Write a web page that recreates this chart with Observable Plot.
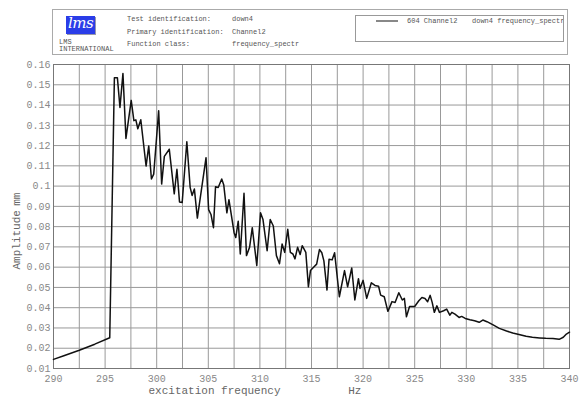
<!DOCTYPE html>
<html>
<head>
<meta charset="utf-8">
<script src="https://cdn.jsdelivr.net/npm/d3@7"></script>
<script src="https://cdn.jsdelivr.net/npm/@observablehq/plot@0.6"></script>
<style>
  html, body { margin: 0; padding: 0; background: #fff; }
  #wrap { position: relative; width: 582px; height: 399px; overflow: hidden; }
  #header { position: absolute; left: 52px; top: 9px; width: 516px; height: 46px;
            border: 1px solid #aaa; box-sizing: border-box; font-family: "Liberation Mono", "DejaVu Sans Mono", monospace;
            font-size: 7px; color: #555; }
  .t { position: absolute; white-space: nowrap; line-height: 1; }
  #logo { position: absolute; left: 13px; top: 6px; width: 29px; height: 18px; background: #2a3de8;
          color: #fff; font-family: "DejaVu Serif", serif; font-style: italic; font-size: 15px; line-height: 15px;
          text-align: center; letter-spacing: -0.5px; box-shadow: 1px 1px 0 #99a; }
  #legend { position: absolute; left: 302px; top: 5px; width: 209px; height: 27px; border: 1px solid #999;
            box-sizing: border-box; overflow: hidden; }
  #legline { position: absolute; left: 20px; top: 4px; width: 22px; height: 2px; background: #888; }
  #chart { position: absolute; left: 0; top: 0; }
</style>
</head>
<body>
<div id="wrap">
  <div id="chart"></div>
  <div id="header">
    <div id="logo">lms</div>
    <div class="t" style="left:6px;top:29px;">LMS</div>
    <div class="t" style="left:6px;top:36px;">INTERNATIONAL</div>
    <div class="t" style="left:74px;top:6px;">Test identification:</div>
    <div class="t" style="left:74px;top:19px;">Primary identification:</div>
    <div class="t" style="left:74px;top:31px;">Function class:</div>
    <div class="t" style="left:179px;top:6px;">down4</div>
    <div class="t" style="left:179px;top:19px;">Channel2</div>
    <div class="t" style="left:179px;top:31px;">frequency_spectr</div>
    <div id="legend">
      <div id="legline"></div>
      <div class="t" style="left:51px;top:2px;">604 Channel2</div>
      <div class="t" style="left:116px;top:2px;">down4 frequency_spectr</div>
    </div>
  </div>
</div>
<script>
const freq = [
  290, 291, 292.5, 294, 295.45, 295.9, 296.19, 296.44, 296.73, 297.02, 297.53, 297.79, 297.98, 298.17, 298.46,
  298.97, 299.23, 299.49, 299.71, 300.19, 300.48, 300.74, 301.22, 301.7, 301.96, 302.21, 302.47, 302.92,
  303.24, 303.43, 303.65, 303.94, 304.78, 305.03, 305.26, 305.5, 305.7, 305.96, 306.3, 306.5, 306.8, 307.0,
  307.5, 307.66, 307.9, 308.1, 308.46, 308.7, 309.0, 309.26, 309.7, 310.06, 310.3, 310.7, 311.0, 311.3,
  311.6, 311.9, 312.15, 312.4, 312.7, 312.95, 313.2, 313.4, 313.65, 313.9, 314.1, 314.45, 314.7, 314.9,
  315.2, 315.5, 315.77, 316.0, 316.2, 316.5, 316.7, 317.0, 317.24, 317.7, 318.2, 318.5, 318.9, 319.2,
  319.55, 319.7, 320.0, 320.35, 320.8, 321.15, 321.5, 321.7, 322.05, 322.4, 322.8, 323.1, 323.46, 323.8,
  324.0, 324.2, 324.5, 325.0, 325.4, 325.7, 326.0, 326.25, 326.5, 326.7, 326.9, 327.15, 327.4, 327.8,
  328.1, 328.4, 328.6, 328.9, 329.3, 329.55, 329.9, 330.35, 330.8, 331.25, 331.6, 332.0, 332.6, 333.2,
  333.9, 334.5, 335.2, 335.8, 336.4, 337.1, 337.7, 338.4, 339.0, 339.4, 339.7, 340.0
];
const amp = [
  0.0145, 0.0163, 0.0190, 0.0220, 0.0252, 0.1535, 0.1535, 0.1388, 0.1556, 0.1235, 0.1423, 0.1323, 0.1327, 0.1283, 0.1327,
  0.1099, 0.1198, 0.1035, 0.1059, 0.1372, 0.1010, 0.1147, 0.1182, 0.0962, 0.1083, 0.0922, 0.0919, 0.1219,
  0.0994, 0.0954, 0.0986, 0.0842, 0.1140, 0.0884, 0.0860, 0.0795, 0.0997, 0.0993, 0.1035, 0.1005, 0.0868, 0.0933,
  0.0770, 0.0746, 0.0827, 0.0665, 0.0965, 0.0657, 0.0698, 0.0795, 0.0608, 0.0868, 0.0835, 0.0681, 0.0835, 0.0803,
  0.0657, 0.0617, 0.0714, 0.0673, 0.0787, 0.0673, 0.0665, 0.0641, 0.0698, 0.0662, 0.0706, 0.0673, 0.0503, 0.0583,
  0.0600, 0.0615, 0.0687, 0.0671, 0.0631, 0.0487, 0.0639, 0.0636, 0.0671, 0.0454, 0.0583, 0.0503, 0.0596, 0.0438,
  0.0543, 0.0495, 0.0535, 0.0446, 0.0523, 0.0510, 0.0506, 0.0462, 0.0454, 0.0382, 0.0430, 0.0426, 0.0474, 0.0438,
  0.0446, 0.0355, 0.0406, 0.0406, 0.0434, 0.0450, 0.0445, 0.0429, 0.0461, 0.0425, 0.0377, 0.0409, 0.0377, 0.0385,
  0.0393, 0.0363, 0.0377, 0.0368, 0.0352, 0.0357, 0.0347, 0.0341, 0.0336, 0.0328, 0.0339, 0.0331, 0.0315, 0.0298,
  0.0285, 0.0275, 0.0267, 0.0259, 0.0254, 0.0251, 0.0249, 0.0248, 0.0244, 0.0254, 0.0270, 0.0279
];
const xTickLabels = [290, 295, 300, 305, 310, 315, 320, 325, 330, 335, 340];
const xGrid = [290, 292.5, 295, 297.5, 300, 302.5, 305, 307.5, 310, 312.5, 315, 317.5, 320, 322.5, 325, 327.5, 330, 332.5, 335, 337.5, 340];
const yTickLabels = [0.01, 0.02, 0.03, 0.04, 0.05, 0.06, 0.07, 0.08, 0.09, 0.1, 0.11, 0.12, 0.13, 0.14, 0.15, 0.16];
const xTitle = "excitation frequency";
const xUnit = "Hz";
const yTitle = "Amplitude";
const yUnit = "mm";

const data = freq.map((f, i) => ({f, a: amp[i]}));
const font = "'Liberation Mono', 'DejaVu Sans Mono', monospace";

const chart = Plot.plot({
  width: 582,
  height: 399,
  marginTop: 64,
  marginBottom: 31,
  marginLeft: 53,
  marginRight: 13,
  style: {fontFamily: font, fontSize: "10px", color: "#777", background: "#fff"},
  x: {domain: [290, 340]},
  y: {domain: [0.01, 0.16]},
  marks: [
    Plot.gridX(xGrid, {stroke: "#999", strokeOpacity: 1, strokeWidth: 1}),
    Plot.gridY(yTickLabels, {stroke: "#999", strokeOpacity: 1, strokeWidth: 1}),
    Plot.frame({stroke: "#777", strokeWidth: 1}),
    Plot.axisX({ticks: xTickLabels, tickSize: 0, tickPadding: 6, label: null, tickFormat: d => String(d), fill: "#888"}),
    Plot.axisY({ticks: yTickLabels, tickSize: 0, tickPadding: 3, label: null, tickFormat: d => String(+d.toFixed(2)), fill: "#888"}),
    Plot.line(data, {x: "f", y: "a", stroke: "#111", strokeWidth: 1.5}),
    Plot.text([xTitle], {x: () => 305.6, frameAnchor: "bottom", dy: 25, fontSize: 11, fill: "#666", fontFamily: font, clip: false}),
    Plot.text([xUnit], {x: () => 319.2, frameAnchor: "bottom", dy: 25, fontSize: 11, fill: "#666", fontFamily: font, clip: false}),
    Plot.text([yTitle], {x: () => 286.45, y: () => 0.0735, rotate: -90, fontSize: 11, fill: "#666", fontFamily: font, clip: false}),
    Plot.text([yUnit], {x: () => 286.45, y: () => 0.0935, rotate: -90, fontSize: 11, fill: "#666", fontFamily: font, clip: false})
  ]
});
document.getElementById("chart").appendChild(chart);
</script>
</body>
</html>
